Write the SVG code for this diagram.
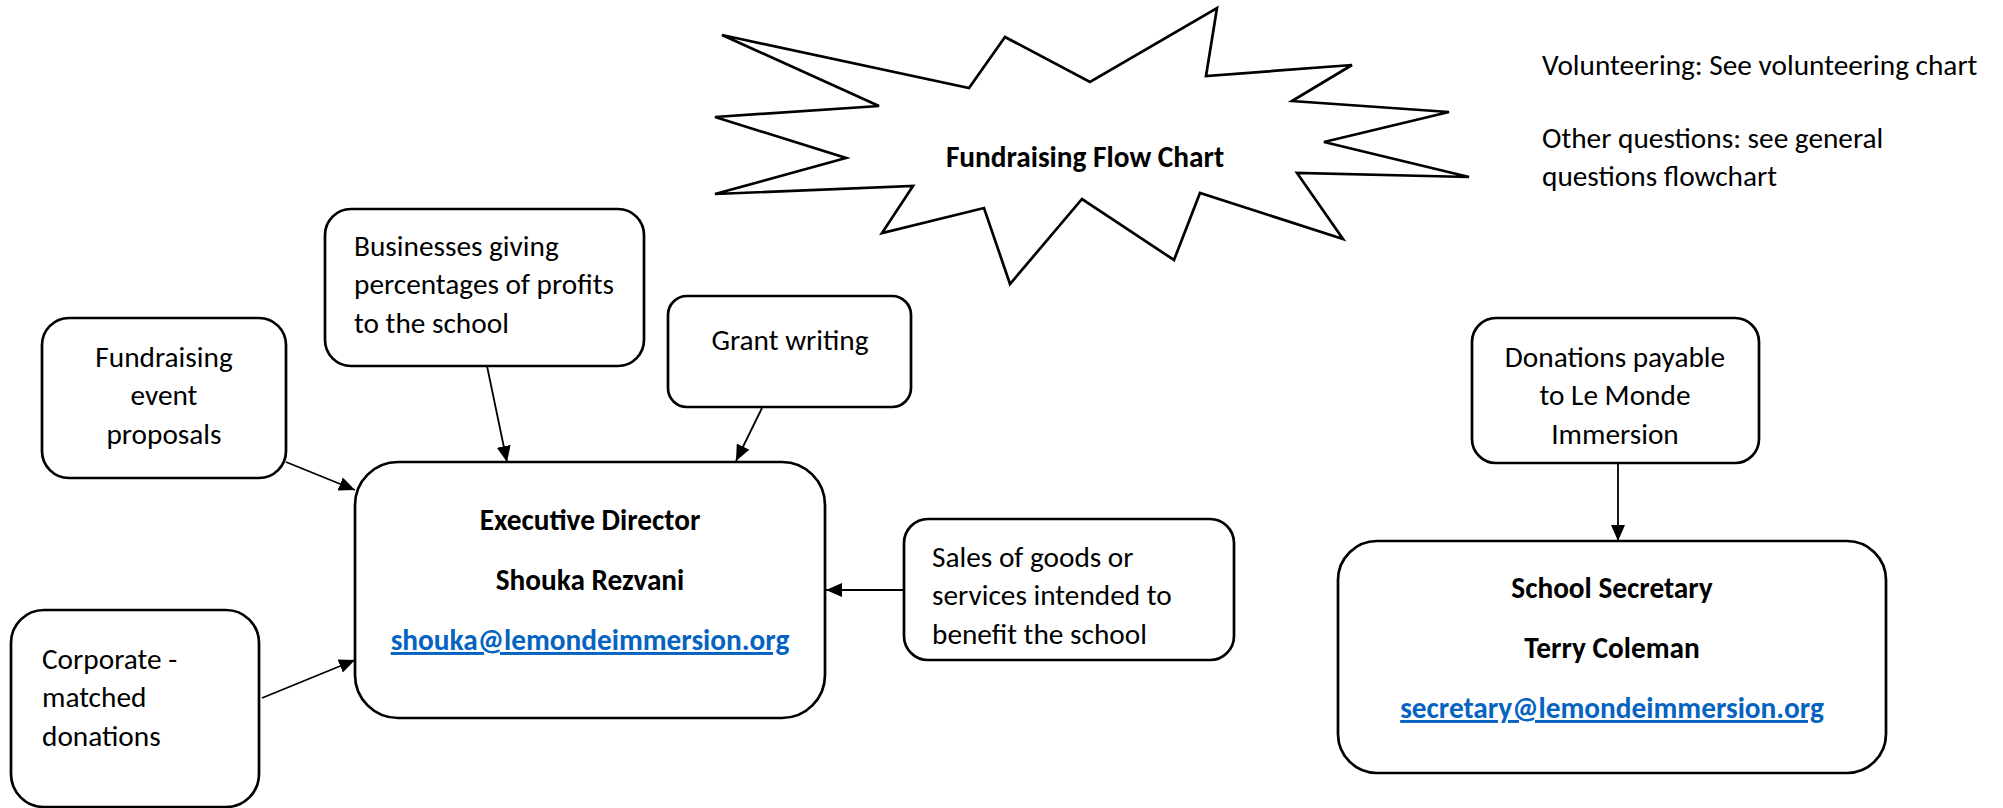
<svg xmlns="http://www.w3.org/2000/svg" width="2003" height="808" viewBox="0 0 2003 808">
<defs>
<style>
.box{fill:#fff;stroke:#000;stroke-width:2.7}
.burst{fill:#fff;stroke:#000;stroke-width:2.7;stroke-linejoin:miter}
.t{font-family:Carlito,Lato,"Liberation Sans",sans-serif;font-size:29.3px;fill:#000}
.b{font-weight:bold}
.m{text-anchor:middle}
.link{fill:#0563C1;text-decoration:underline;font-weight:bold}
.con{fill:none;stroke:#000;stroke-width:1.8}
</style>
<marker id="arr" viewBox="0 0 16 14" refX="16" refY="7" markerWidth="16" markerHeight="14" markerUnits="userSpaceOnUse" orient="auto">
<path d="M0,0 L16,7 L0,14 z" fill="#000"/>
</marker>
</defs>
<rect width="2003" height="808" fill="#fff"/>

<g id="title-burst">
<polygon class="burst" points="722,35 969,88 1005,37 1090,82 1217,8 1206,76 1352,65 1292,101 1449,112 1324,142 1469,177 1297,173 1343,239 1200,193 1174,260 1082,199 1010,284 984,208 882,233 913,186 715,194 846,158 715,117 879,106"/>
<text class="t b m" x="1085" y="167">Fundraising Flow Chart</text>
</g>

<g id="notes">
<text class="t" x="1542" y="75">Volunteering: See volunteering chart</text>
<text class="t" x="1542" y="148">Other questions: see general</text>
<text class="t" x="1542" y="186">questions flowchart</text>
</g>

<g id="connectors">
<path class="con" d="M286,462 L355,490" marker-end="url(#arr)"/>
<path class="con" d="M487,366 L507,462" marker-end="url(#arr)"/>
<path class="con" d="M762,408 L736,461" marker-end="url(#arr)"/>
<path class="con" d="M262,698 L355,660" marker-end="url(#arr)"/>
<path class="con" d="M904,590 L826,590" marker-end="url(#arr)"/>
<path class="con" d="M1618,463 L1618,541" marker-end="url(#arr)"/>
</g>

<g id="businesses">
<rect class="box" x="325" y="209" width="319" height="157" rx="26"/>
<text class="t" x="354" y="256">Businesses giving</text>
<text class="t" x="354" y="294">percentages of profits</text>
<text class="t" x="354" y="333">to the school</text>
</g>

<g id="fundraising-event">
<rect class="box" x="42" y="318" width="244" height="160" rx="27"/>
<text class="t m" x="164" y="367">Fundraising</text>
<text class="t m" x="164" y="405">event</text>
<text class="t m" x="164" y="444">proposals</text>
</g>

<g id="grant-writing">
<rect class="box" x="668" y="296" width="243" height="111" rx="19"/>
<text class="t m" x="790" y="350">Grant writing</text>
</g>

<g id="executive-director">
<rect class="box" x="355" y="462" width="470" height="256" rx="43"/>
<text class="t b m" x="590" y="530">Executive Director</text>
<text class="t b m" x="590" y="590">Shouka Rezvani</text>
<text class="t link m" x="590" y="650">shouka@lemondeimmersion.org</text>
</g>

<g id="corporate">
<rect class="box" x="11" y="610" width="248" height="197" rx="33"/>
<text class="t" x="42" y="669">Corporate -</text>
<text class="t" x="42" y="707">matched</text>
<text class="t" x="42" y="746">donations</text>
</g>

<g id="sales">
<rect class="box" x="904" y="519" width="330" height="141" rx="24"/>
<text class="t" x="932" y="567">Sales of goods or</text>
<text class="t" x="932" y="605">services intended to</text>
<text class="t" x="932" y="644">benefit the school</text>
</g>

<g id="donations">
<rect class="box" x="1472" y="318" width="287" height="145" rx="24"/>
<text class="t m" x="1615" y="367">Donations payable</text>
<text class="t m" x="1615" y="405">to Le Monde</text>
<text class="t m" x="1615" y="444">Immersion</text>
</g>

<g id="school-secretary">
<rect class="box" x="1338" y="541" width="548" height="232" rx="39"/>
<text class="t b m" x="1612" y="598">School Secretary</text>
<text class="t b m" x="1612" y="658">Terry Coleman</text>
<text class="t link m" x="1612" y="718">secretary@lemondeimmersion.org</text>
</g>
</svg>
